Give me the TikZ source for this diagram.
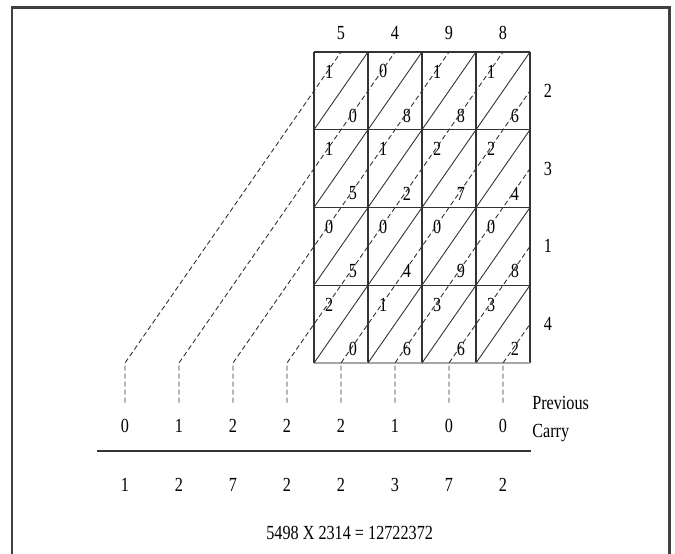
\documentclass[tikz,border=0pt]{standalone}
\usepackage{fontspec}
\setmainfont{Liberation Serif}[FakeStretch=0.81]
\usetikzlibrary{positioning}
\newcommand{\digitfont}{\fontsize{20}{28}\selectfont}

\begin{document}
\begin{tikzpicture}[
  x=54pt, y=77.75pt,
  every node/.style={font=\digitfont,inner sep=1pt},
  cell/.style={draw=black!80,line width=1.1pt,xstep=54pt,ystep=77.75pt},
  diag/.style={black!80,line width=0.9pt},
  mid/.style={black!80,line width=0.9pt,dash pattern=on 5pt off 3pt},
  frame/.style={black!75,line width=2.6pt}
]
\useasboundingbox (-5.8148,-2.4566) rectangle (6.6852,4.6688);
% outer frame, open at the bottom
\draw[frame] (-5.593,-2.5) -- (-5.593,4.572) -- (6.583,4.572) -- (6.583,-2.5);
% lattice
\draw[cell] (0,0) grid (4,4);
\draw[black!35,line width=2.4pt] (0,0) -- (4,0);
\foreach \c in {0,...,3}
  \foreach \r in {0,...,3}
    \draw[diag] (\c,\r) -- ++(1,1);
\foreach \a [count=\j] in {5,4,9,8}
  \node (top\j) at (\j-0.5,4.24) {\a};
\foreach \m [count=\i] in {2,3,1,4}
  \node (side\i) at (4.33,4.5-\i) {\m};
% partial products
\foreach \m [count=\i] in {2,3,1,4}
  \foreach \a [count=\j] in {5,4,9,8} {
    \pgfmathtruncatemacro{\prodv}{\a*\m}
    \pgfmathtruncatemacro{\tensv}{\prodv/10}
    \pgfmathtruncatemacro{\unitv}{mod(\prodv,10)}
    \node (t\i\j) at (\j-0.72,4.75-\i) {\tensv};
    \node (u\i\j) at (\j-0.28,4.18-\i) {\unitv};
  }
% diagonal sums run down to the carry row
\foreach \k [count=\n] in {-3.5,-2.5,...,3.5} {
  \pgfmathsetmacro{\tu}{min(4,4+\k)}
  \pgfmathsetmacro{\tv}{min(4,4-\k)}
  \coordinate (foot\n) at (\k,-0.51);
  \coordinate (head\n) at (\tu,\tv);
  \draw[mid] (foot\n) -- (\k,0) -- (head\n);
}
\foreach \d [count=\n] in {0,1,2,2,2,1,0,0}
  \node (carry\n) at (\n-4.5,-0.81) {\d};
\node[anchor=west,align=left] (prev) at (4.02,-0.72) {Previous\\Carry};
\draw[black!80,line width=2.2pt] (-4.02,-1.13) coordinate (ruleL) -- (4.02,-1.13) coordinate (ruleR);
\foreach \d [count=\n] in {1,2,7,2,2,3,7,2}
  \node (res\n) at (\n-4.5,-1.57) {\d};
\node (eq) at (0.66,-2.19) {5498 X 2314 = 12722372};
\end{tikzpicture}
\end{document}
